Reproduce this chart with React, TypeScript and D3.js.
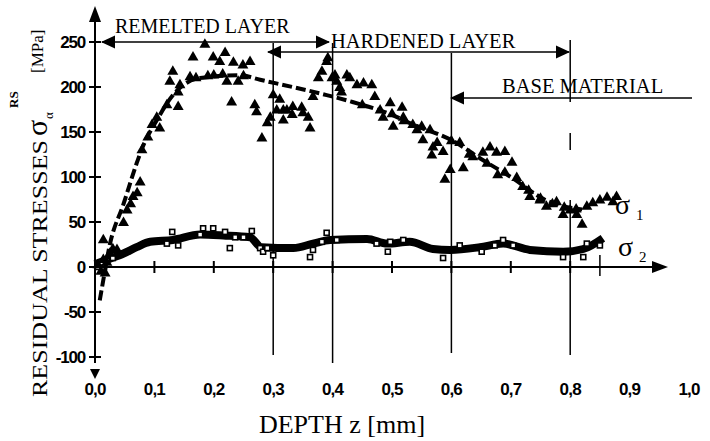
import React from "react";
import * as d3 from "d3";

const width = 710;
const height = 441;

// axis ticks
const zTicks = [0, 0.1, 0.2, 0.3, 0.4, 0.5, 0.6, 0.7, 0.8, 0.9, 1.0];
const stressTicks = [-100, -50, 0, 50, 100, 150, 200, 250];

// sigma 1 measured points (triangles)
const sigma1Z = [
  0.005, 0.01, 0.014, 0.014, 0.017, 0.02, 0.025, 0.03, 0.037, 0.048, 0.054, 0.06, 0.064, 0.071, 0.076,
  0.079, 0.089, 0.096, 0.104, 0.109, 0.121, 0.126, 0.131, 0.14, 0.14, 0.143, 0.16, 0.165, 0.17, 0.185,
  0.19, 0.199, 0.2, 0.21, 0.215, 0.219, 0.222, 0.23, 0.233, 0.241, 0.249, 0.25, 0.261, 0.269, 0.272,
  0.281, 0.29, 0.295, 0.3, 0.306, 0.311, 0.317, 0.317, 0.323, 0.332, 0.333, 0.348, 0.35, 0.359, 0.362,
  0.367, 0.376, 0.382, 0.39, 0.392, 0.399, 0.404, 0.407, 0.412, 0.415, 0.424, 0.429, 0.441, 0.45,
  0.452, 0.466, 0.471, 0.48, 0.485, 0.497, 0.5, 0.502, 0.517, 0.519, 0.52, 0.535, 0.542, 0.55, 0.552,
  0.564, 0.567, 0.569, 0.576, 0.586, 0.589, 0.598, 0.6, 0.614, 0.62, 0.63, 0.636, 0.653, 0.66, 0.665,
  0.676, 0.678, 0.69, 0.69, 0.702, 0.71, 0.72, 0.73, 0.732, 0.749, 0.75, 0.76, 0.77, 0.777, 0.788, 0.79,
  0.8, 0.81, 0.811, 0.82, 0.828, 0.838, 0.85, 0.862, 0.872, 0.878,
];
const sigma1Vals = [
  2, -5, 8, 30, -7, 5, 15, 20, 19, 49, 63, 70, 78, 82, 94,
  130, 144, 158, 166, 154, 180, 206, 217, 194, 178, 202, 211, 233, 210, 247,
  212, 233, 213, 228, 214, 238, 206, 183, 227, 206, 224, 212, 228, 180, 172,
  143, 160, 166, 191, 174, 186, 163, 174, 174, 169, 178, 177, 171, 166, 154,
  189, 210, 217, 228, 232, 210, 213, 206, 199, 194, 213, 210, 202, 180,
  204, 202, 189, 174, 166, 182, 170, 156, 177, 166, 162, 158, 152, 156, 141,
  152, 124, 133, 138, 128, 97, 108, 140, 138, 110, 125, 122, 127, 115, 133,
  127, 102, 128, 105, 116, 99, 89, 85, 78, 74, 76, 67, 70, 72, 58, 66,
  63, 64, 58, 47, 67, 71, 74, 77, 72, 78,
];

// sigma 1 trend (dashed)
const fit1Z = [0.008, 0.012, 0.025, 0.048, 0.07, 0.08, 0.104, 0.13, 0.177, 0.244, 0.278, 0.39, 0.43, 0.5, 0.54, 0.58, 0.6, 0.65, 0.7, 0.76, 0.8, 0.82];
const fit1Vals = [-37, -22, 25, 70, 115, 133, 163, 190, 210, 213, 208, 191, 184, 169, 157, 147, 141, 120, 100, 74, 66, 64];

// sigma 2 trend (thick line)
const line2Z = [0, 0.02, 0.048, 0.07, 0.093, 0.131, 0.177, 0.216, 0.261, 0.28, 0.334, 0.367, 0.396, 0.458, 0.492, 0.53, 0.569, 0.598, 0.648, 0.687, 0.732, 0.788, 0.822, 0.855];
const line2Vals = [3, 8, 15, 22, 28, 30, 36, 35, 33, 22, 21, 26, 30, 31, 26, 28, 20, 19, 22, 26, 19, 17, 20, 32];

// sigma 2 measured points (squares)
const sigma2Z = [
  0.005, 0.01, 0.015, 0.02, 0.03, 0.121, 0.13, 0.14, 0.177, 0.182, 0.199, 0.219, 0.227, 0.236, 0.25,
  0.264, 0.278, 0.283, 0.29, 0.3, 0.362, 0.367, 0.382, 0.39, 0.407, 0.474, 0.493, 0.497, 0.519,
  0.586, 0.614, 0.651, 0.673, 0.687, 0.704, 0.788, 0.822, 0.828, 0.85,
];
const sigma2Vals = [
  0, 5, -3, 8, 10, 26, 39, 24, 36, 43, 43, 39, 21, 33, 33,
  40, 21, 17, 21, 13, 11, 19, 28, 38, 30, 26, 17, 28, 30,
  10, 24, 17, 24, 30, 24, 11, 11, 26, 24,
];

const x = d3.scaleLinear().domain([0, 1]).range([95, 689]);
const y = d3.scaleLinear().domain([-100, 250]).range([357, 42]);

const serif = "'Liberation Serif', 'DejaVu Serif', serif";
const sans = "'Liberation Sans', Arial, sans-serif";

const ArrowHead = ({ tx, ty, dir }: { tx: number; ty: number; dir: number }) => (
  <path d={`M${tx},${ty} L${tx - dir * 14},${ty - 6.5} L${tx - dir * 14},${ty + 6.5} Z`} fill="#000" />
);

const App = () => {
  const tri = d3.symbol(d3.symbolTriangle, 52)() as string;
  const fitLine = d3
    .line<number>()
    .x((d, i) => x(fit1Z[i]))
    .y((d) => y(d))
    .curve(d3.curveMonotoneX)(fit1Vals) as string;
  const s2Line = d3
    .line<number>()
    .x((d, i) => x(line2Z[i]))
    .y((d) => y(d))
    .curve(d3.curveMonotoneX)(line2Vals) as string;

  const y0 = y(0);
  const fmt = (v: number) => v.toFixed(1).replace(".", ",");

  return (
    <svg
      width={width}
      height={height}
      viewBox={`0 0 ${width} ${height}`}
      style={{ position: "absolute", left: 0, top: 0, background: "#fff" }}
    >
      {/* layer boundaries */}
      <line x1={x(0.3)} x2={x(0.3)} y1={43} y2={355} stroke="#000" strokeWidth={1.5} />
      <line x1={x(0.4)} x2={x(0.4)} y1={43} y2={363} stroke="#000" strokeWidth={1.5} />
      <line x1={x(0.6)} x2={x(0.6)} y1={53} y2={353} stroke="#000" strokeWidth={1.5} />
      <line x1={x(0.8)} x2={x(0.8)} y1={40} y2={102} stroke="#000" strokeWidth={1.5} />
      <line x1={x(0.8)} x2={x(0.8)} y1={133} y2={150} stroke="#000" strokeWidth={1.5} />
      <line x1={x(0.8)} x2={x(0.8)} y1={200} y2={355} stroke="#000" strokeWidth={1.5} />
      <line x1={x(0.85)} x2={x(0.85)} y1={255} y2={276} stroke="#000" strokeWidth={1.5} />

      {/* axes */}
      <line x1={95} x2={95} y1={14} y2={363} stroke="#000" strokeWidth={2} />
      <path d="M95,6 L89,22 L101,22 Z" fill="#000" />
      <path d="M95,379 L90,369 L100,369 Z" fill="#000" />
      <line x1={95} x2={655} y1={y0} y2={y0} stroke="#000" strokeWidth={2} />
      <path d={`M668,${y0} L652,${y0 - 6} L652,${y0 + 6} Z`} fill="#000" />

      {stressTicks.map((t) => (
        <g key={t}>
          <line x1={89} x2={101} y1={y(t)} y2={y(t)} stroke="#000" strokeWidth={2} />
          <text x={85} y={y(t) + 6} textAnchor="end" fontFamily={sans} fontWeight={700} fontSize={17} letterSpacing={-1.2}>
            {t}
          </text>
        </g>
      ))}
      {zTicks.map((t) => (
        <g key={t}>
          {t > 0 && t < 0.9 && (
            <line x1={x(t)} x2={x(t)} y1={y0 - 6} y2={y0 + 6} stroke="#000" strokeWidth={2} />
          )}
          <text x={x(t)} y={395} textAnchor="middle" fontFamily={sans} fontWeight={700} fontSize={17} letterSpacing={-0.8}>
            {fmt(t)}
          </text>
        </g>
      ))}

      {/* sigma 2 */}
      <path d={s2Line} fill="none" stroke="#000" strokeWidth={8} strokeLinejoin="round" />
      {sigma2Vals.map((v, i) => (
        <rect
          key={i}
          x={x(sigma2Z[i]) - 2.5}
          y={y(v) - 2.5}
          width={5}
          height={5}
          fill="#fff"
          stroke="#000"
          strokeWidth={1.6}
        />
      ))}

      {/* sigma 1 */}
      <path d={fitLine} fill="none" stroke="#000" strokeWidth={4} strokeDasharray="10,4" />
      {sigma1Vals.map((v, i) => (
        <path key={i} d={tri} transform={`translate(${x(sigma1Z[i])},${y(v)})`} fill="#000" />
      ))}

      {/* layer annotations */}
      <line x1={102} x2={329} y1={42} y2={42} stroke="#000" strokeWidth={1.6} />
      <ArrowHead tx={101} ty={42} dir={-1} />
      <ArrowHead tx={330} ty={42} dir={1} />
      <text x={115} y={33} fontFamily={serif} fontSize={20}>REMELTED LAYER</text>

      <line x1={268} x2={569} y1={52} y2={52} stroke="#000" strokeWidth={1.6} />
      <ArrowHead tx={267} ty={52} dir={-1} />
      <ArrowHead tx={570} ty={52} dir={1} />
      <text x={331} y={48} fontFamily={serif} fontSize={20.5}>HARDENED LAYER</text>

      <line x1={451} x2={692} y1={98} y2={98} stroke="#000" strokeWidth={1.6} />
      <ArrowHead tx={450} ty={98} dir={-1} />
      <text x={502} y={93} fontFamily={serif} fontSize={20.5}>BASE MATERIAL</text>

      {/* series labels */}
      <text x={615} y={214} fontFamily={serif} fontSize={28}>σ</text>
      <text x={636} y={220} fontFamily={serif} fontSize={15}>1</text>
      <text x={618} y={256} fontFamily={serif} fontSize={28}>σ</text>
      <text x={639} y={262} fontFamily={serif} fontSize={15}>2</text>

      {/* axis titles */}
      <text x={342} y={433} textAnchor="middle" fontFamily={serif} fontSize={26}>
        DEPTH z [mm]
      </text>
      <g transform="translate(47,397) rotate(-90)">
        <text x={0} y={0} fontFamily={serif} fontSize={22} textLength={257} lengthAdjust="spacingAndGlyphs">
          RESIDUAL STRESSES
        </text>
        <text x={261} y={0} fontFamily={serif} fontSize={30}>σ</text>
        <text x={278} y={6} fontFamily={serif} fontSize={13}>α</text>
        <text x={289} y={-29} fontFamily={serif} fontSize={13} fontWeight={700}>RS</text>
        <text x={324} y={-4} fontFamily={serif} fontSize={17}>[MPa]</text>
      </g>
    </svg>
  );
};

export default App;
